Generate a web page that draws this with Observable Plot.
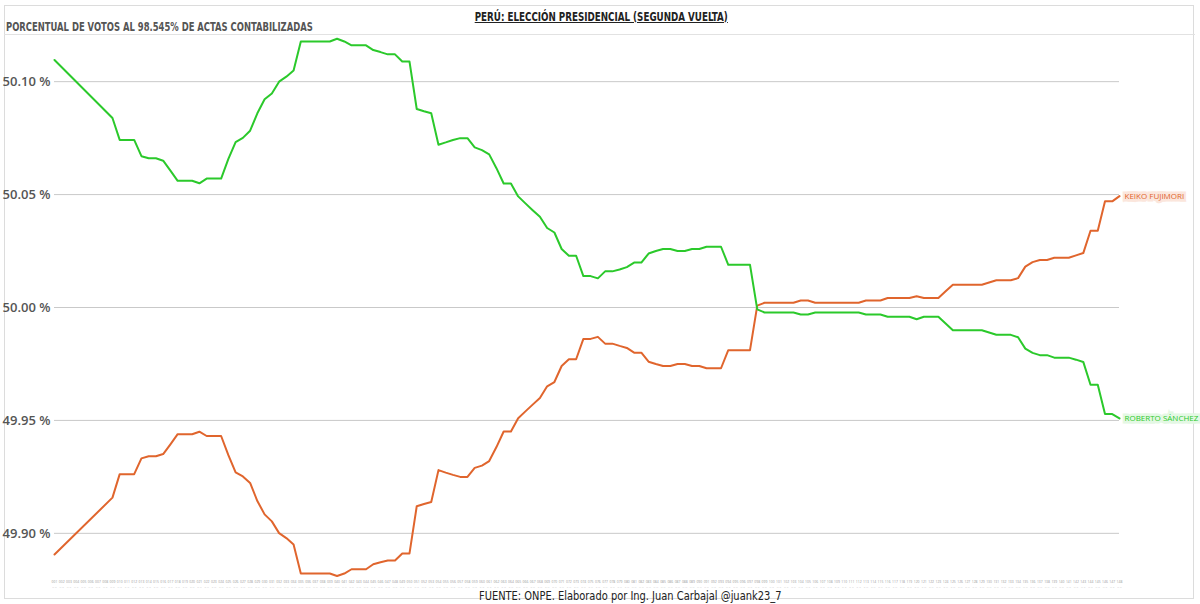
<!DOCTYPE html>
<html>
<head>
<meta charset="utf-8">
<script src="https://cdn.jsdelivr.net/npm/d3@7"></script>
<script src="https://cdn.jsdelivr.net/npm/@observablehq/plot@0.6"></script>
<style>
  html, body { margin: 0; padding: 0; background: #fff; }
  #wrap { position: relative; width: 1200px; height: 604px; overflow: hidden; background: #fff; }
  #frame { position: absolute; left: 4px; top: 5px; width: 1190px; height: 594px; border: 1px solid #dcdcdc; box-sizing: border-box; }
  #sep { position: absolute; left: 4px; top: 34px; width: 1191px; height: 0; border-top: 1px solid #e2e2e2; }
  .t { font-family: "DejaVu Sans Condensed", "DejaVu Sans", sans-serif; white-space: nowrap; }
  #title { position: absolute; left: 0; width: 1202px; top: 6px; text-align: center; }
  #title span { display: inline-block; font-weight: bold; font-size: 12px; color: #222; text-decoration: underline; transform: scaleX(0.81); transform-origin: 50% 50%; }
  #subtitle { position: absolute; left: 6px; top: 20px; font-weight: bold; font-size: 12px; color: #555; transform: scaleX(0.78); transform-origin: 0 50%; }
  #footer { position: absolute; left: 0; width: 1260px; top: 585px; text-align: center; }
  #footer span { display: inline-block; font-size: 12px; color: #222; transform: scaleX(0.915); transform-origin: 50% 50%; }
  #chart { position: absolute; left: 0; top: 36px; }
</style>
</head>
<body>
<div id="wrap">
  <div id="frame"></div>
  <div id="sep"></div>
  <div id="title" class="t"><span>PERÚ: ELECCIÓN PRESIDENCIAL (SEGUNDA VUELTA)</span></div>
  <div id="subtitle" class="t">PORCENTUAL DE VOTOS AL 98.545% DE ACTAS CONTABILIZADAS</div>
  <div id="chart"></div>
  <div id="footer" class="t"><span>FUENTE: ONPE. Elaborado por Ing. Juan Carbajal @juank23_7</span></div>
</div>
<script>
// Series names
const seriesNames = ["KEIKO FUJIMORI", "ROBERTO SÁNCHEZ"];
const seriesColors = ["#e0652d", "#2bc92b"];

// Y-axis ticks (%)
const yTicks = [49.90, 49.95, 50.00, 50.05, 50.10];

// Keiko Fujimori (%), one value per update (null = no point)
const keiko = [
  49.8906, null, null, null, null, null, null, null, 49.9158, 49.9262,
  49.9262, 49.9262, 49.9332, 49.9341, 49.9341, 49.9351, 49.9394, 49.9439, 49.9439, 49.9439,
  49.9450, 49.9431, 49.9431, 49.9431, 49.9346, 49.9270, 49.9252, 49.9223, 49.9143, 49.9084,
  49.9053, 49.9001, 49.8979, 49.8951, 49.8822, 49.8822, 49.8822, 49.8822, 49.8822, 49.8811,
  49.8822, 49.8841, 49.8841, 49.8841, 49.8863, 49.8872, 49.8880, 49.8880, 49.8911, 49.8911,
  49.9120, 49.9130, 49.9139, 49.9280, 49.9269, 49.9259, 49.9250, 49.9250, 49.9290, 49.9300,
  49.9320, 49.9382, 49.9451, 49.9451, 49.9510, 49.9540, 49.9570, 49.9599, 49.9651, 49.9670,
  49.9741, 49.9771, 49.9771, 49.9861, 49.9861, 49.9870, 49.9840, 49.9840, 49.9830, 49.9821,
  49.9800, 49.9800, 49.9760, 49.9750, 49.9741, 49.9741, 49.9750, 49.9750, 49.9741, 49.9741,
  49.9731, 49.9731, 49.9731, 49.9811, 49.9811, 49.9811, 49.9811, 50.0008, 50.0021, 50.0021,
  50.0021, 50.0021, 50.0021, 50.0031, 50.0031, 50.0021, 50.0021, 50.0021, 50.0021, 50.0021,
  50.0021, 50.0021, 50.0031, 50.0031, 50.0031, 50.0042, 50.0042, 50.0042, 50.0042, 50.0050,
  50.0042, 50.0042, 50.0042, 50.0072, 50.0101, 50.0101, 50.0101, 50.0101, 50.0101, 50.0111,
  50.0121, 50.0121, 50.0121, 50.0130, 50.0181, 50.0201, 50.0210, 50.0210, 50.0220, 50.0220,
  50.0220, 50.0231, 50.0241, 50.0340, 50.0340, 50.0470, 50.0470, 50.0493
];

// Roberto Sánchez (%)
const roberto = [
  50.1096, null, null, null, null, null, null, null, 50.0839, 50.0742,
  50.0742, 50.0742, 50.0670, 50.0661, 50.0661, 50.0650, 50.0606, 50.0561, 50.0561, 50.0561,
  50.0550, 50.0571, 50.0571, 50.0571, 50.0658, 50.0732, 50.0751, 50.0783, 50.0860, 50.0922,
  50.0948, 50.1000, 50.1022, 50.1049, 50.1178, 50.1178, 50.1178, 50.1178, 50.1178, 50.1190,
  50.1178, 50.1161, 50.1161, 50.1161, 50.1140, 50.1131, 50.1121, 50.1121, 50.1089, 50.1089,
  50.0879, 50.0869, 50.0860, 50.0721, 50.0731, 50.0742, 50.0750, 50.0750, 50.0709, 50.0697,
  50.0678, 50.0617, 50.0549, 50.0549, 50.0492, 50.0461, 50.0431, 50.0402, 50.0352, 50.0332,
  50.0259, 50.0229, 50.0229, 50.0139, 50.0139, 50.0129, 50.0160, 50.0160, 50.0168, 50.0179,
  50.0199, 50.0199, 50.0239, 50.0250, 50.0259, 50.0259, 50.0250, 50.0250, 50.0259, 50.0259,
  50.0269, 50.0269, 50.0269, 50.0189, 50.0189, 50.0189, 50.0189, 49.9992, 49.9978, 49.9978,
  49.9978, 49.9978, 49.9978, 49.9969, 49.9969, 49.9978, 49.9978, 49.9978, 49.9978, 49.9978,
  49.9978, 49.9978, 49.9969, 49.9969, 49.9969, 49.9959, 49.9959, 49.9959, 49.9959, 49.9948,
  49.9959, 49.9959, 49.9959, 49.9929, 49.9899, 49.9899, 49.9899, 49.9899, 49.9899, 49.9889,
  49.9879, 49.9879, 49.9879, 49.9868, 49.9818, 49.9799, 49.9789, 49.9789, 49.9778, 49.9778,
  49.9778, 49.9769, 49.9759, 49.9658, 49.9658, 49.9528, 49.9528, 49.9509
];

// X categories (update number; original labels are illegible)
const updates = keiko.map((_, i) => i);
const updateLabels = updates.map(i => String(i + 1).padStart(3, "0") + "\n" + "·· ··");

const rows = [];
[keiko, roberto].forEach((arr, s) => {
  arr.forEach((v, i) => { if (v != null) rows.push({i, v, s: seriesNames[s]}); });
});
const lastRows = seriesNames.map((name, s) => {
  const arr = s === 0 ? keiko : roberto;
  return {i: updates[updates.length - 1], v: arr[arr.length - 1], s: name};
});

const chart = Plot.plot({
  width: 1200,
  height: 554,
  marginLeft: 54,
  marginRight: 81,
  marginTop: 0,
  marginBottom: 12,
  style: {fontFamily: "Open Sans, sans-serif", background: "transparent"},
  x: {domain: [updates[0], updates[updates.length - 1]]},
  y: {domain: [49.88, 50.12]},
  color: {domain: seriesNames, range: seriesColors},
  marks: [
    Plot.gridY(yTicks, {stroke: "#c9c9c9", strokeOpacity: 1, strokeWidth: 1}),
    Plot.axisY(yTicks, {tickSize: 0, tickPadding: 4, fontSize: 13, fontWeight: 600, fill: "#555", tickFormat: d => d.toFixed(2) + " %", label: null}),
    Plot.axisX(updates, {tickSize: 0, tickPadding: 1, fontSize: 3.4, fill: "#999", lineHeight: 1.6, tickFormat: i => updateLabels[i], label: null}),
    Plot.line(rows, {x: "i", y: "v", z: "s", stroke: "s", strokeWidth: 2, curve: "linear"}),
    Plot.text(lastRows, {x: "i", y: "v", text: "s", fill: "s", dx: 5, textAnchor: "start", fontSize: 8,
      stroke: d => d.s === seriesNames[0] ? "#fbe6dc" : "#e4f8e4", strokeWidth: 5, strokeLinejoin: "miter"})
  ]
});
document.getElementById("chart").appendChild(chart);
</script>
</body>
</html>
